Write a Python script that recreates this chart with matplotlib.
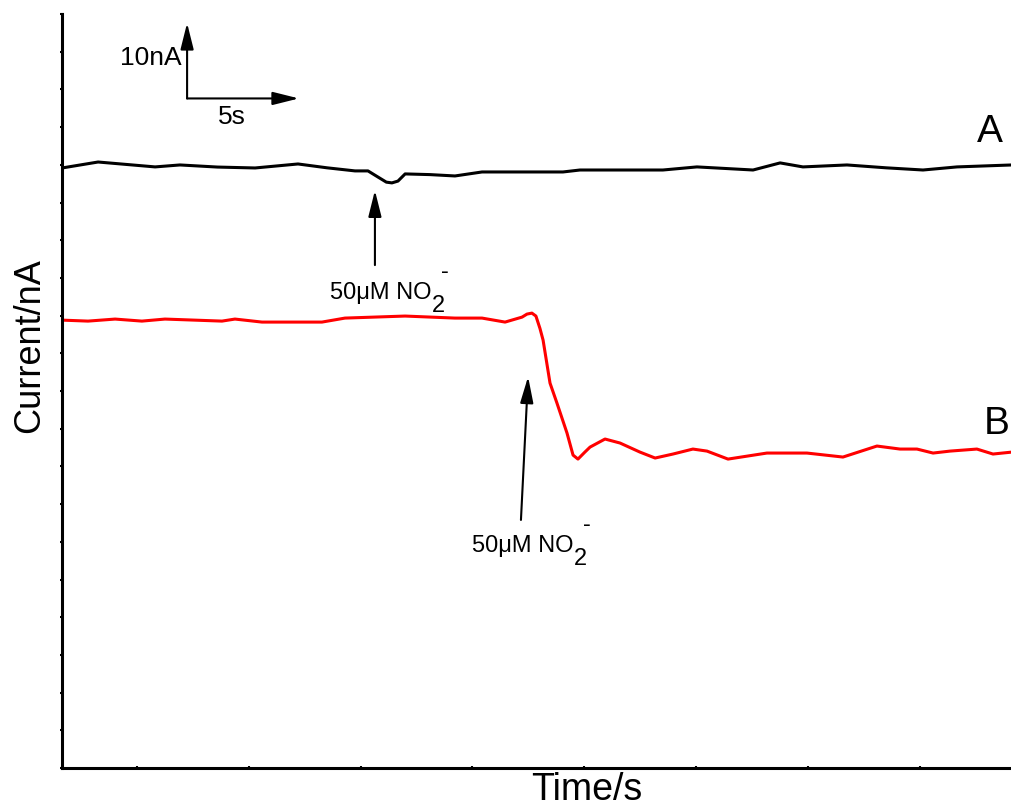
import numpy as np
import matplotlib.pyplot as plt

plt.rcParams['font.family'] = ['Liberation Sans', 'DejaVu Sans']

# Trace A (black): current vs time
t_a = [1.65, 3.26, 5.81, 6.92, 8.60, 10.28, 12.20, 13.50, 14.75, 15.33, 15.78,
       16.15, 16.40, 16.67, 16.99, 18.10, 19.22, 20.43, 22.80, 24.05, 24.81,
       28.52, 30.04, 32.55, 33.76, 34.78, 36.75, 38.50, 40.15, 41.67, 44.13]
i_a = [79.58, 80.37, 79.72, 79.98, 79.70, 79.58, 80.11, 79.60, 79.19, 79.19, 78.37,
       77.70, 77.60, 77.84, 78.79, 78.70, 78.52, 79.05, 79.05, 79.05, 79.31,
       79.31, 79.72, 79.31, 80.25, 79.72, 79.98, 79.60, 79.31, 79.72, 79.98]

# Trace B (red): current vs time
t_b = [1.65, 2.81, 4.02, 5.22, 6.25, 8.80, 9.38, 10.59, 13.27, 14.30, 16.99,
       19.22, 20.43, 21.46, 22.22, 22.44, 22.66, 22.84, 23.02, 23.16, 23.47,
       23.78, 24.23, 24.50, 24.72, 25.03, 25.26, 25.93, 26.60, 27.49, 28.17,
       28.97, 29.86, 30.49, 31.43, 33.17, 34.96, 36.57, 38.09, 39.12, 39.88,
       40.60, 41.36, 42.56, 43.28, 44.13]
i_b = [59.40, 59.27, 59.54, 59.27, 59.54, 59.27, 59.54, 59.14, 59.14, 59.67, 59.94,
       59.67, 59.67, 59.14, 59.80, 60.20, 60.33, 59.94, 58.30, 56.75, 51.05,
       48.40, 44.42, 41.50, 40.97, 41.90, 42.56, 43.63, 43.10, 41.90, 41.11,
       41.64, 42.30, 42.03, 40.97, 41.77, 41.77, 41.24, 42.70, 42.30, 42.30,
       41.77, 42.03, 42.30, 41.64, 41.90]

# injection arrows: (tail t, tail I, tip t, tip I)
inject_a = (15.64, 66.7, 15.64, 76.6)
inject_b = (22.17, 32.9, 22.49, 51.9)

# scale bar origin and lengths
bar_t0, bar_i0 = 7.24, 88.8
bar_dt, bar_di = 5.0, 10.0

fig = plt.figure(figsize=(10.12, 8.1), dpi=100)
ax = fig.add_axes([62 / 1012, 42 / 810, 950 / 1012, 754 / 810])

ax.plot(t_a, i_a, color='black', lw=2.2, solid_joinstyle='round')
ax.plot(t_b, i_b, color='red', lw=2.2, solid_joinstyle='round')

ax.set_xlim(1.646, 44.13)
ax.set_ylim(0, 100)
ax.set_xticks(np.arange(5, 45, 5))
ax.set_yticks(np.arange(0, 101, 5))
ax.tick_params(direction='inout', length=2.5, width=1.5, labelbottom=False, labelleft=False)
for side in ['top', 'right']:
    ax.spines[side].set_visible(False)
for side in ['left', 'bottom']:
    ax.spines[side].set_linewidth(2.2)

arrow = dict(arrowstyle='-|>,head_length=0.8,head_width=0.2', mutation_scale=20,
             color='black', lw=1.5, shrinkA=0, shrinkB=0)

# scale bar
ax.annotate('', xy=(bar_t0, bar_i0 + bar_di), xytext=(bar_t0, bar_i0), arrowprops=arrow)
ax.annotate('', xy=(bar_t0 + bar_dt, bar_i0), xytext=(bar_t0, bar_i0), arrowprops=arrow)
fig.text(182 / 1012, 1 - 58 / 810, '10nA', fontsize=19, ha='right', va='center')
fig.text(232 / 1012, 1 - 117 / 810, '5s', fontsize=19, ha='center', va='center')

# injection markers
for (t0, i0, t1, i1), (lx, ly) in [(inject_a, (330, 299)), (inject_b, (472, 552))]:
    ax.annotate('', xy=(t1, i1), xytext=(t0, i0), arrowprops=arrow)
    fig.text(lx / 1012, 1 - ly / 810, '50\u03bcM NO', fontsize=17, va='baseline')
    fig.text((lx + 102) / 1012, 1 - (ly + 13) / 810, '2', fontsize=17, va='baseline')
    fig.text((lx + 115) / 1012, 1 - (ly - 27) / 810, '-', fontsize=17, ha='center', va='center')

fig.text(990 / 1012, 1 - 132 / 810, 'A', fontsize=28, ha='center', va='center')
fig.text(997 / 1012, 1 - 424 / 810, 'B', fontsize=28, ha='center', va='center')

fig.text(30 / 1012, 1 - 346 / 810, 'Current/nA', fontsize=26, rotation=90,
         ha='center', va='center')
fig.text(587 / 1012, 1 - 790 / 810, 'Time/s', fontsize=27, ha='center', va='center')

fig.savefig('out.png', dpi=100)
